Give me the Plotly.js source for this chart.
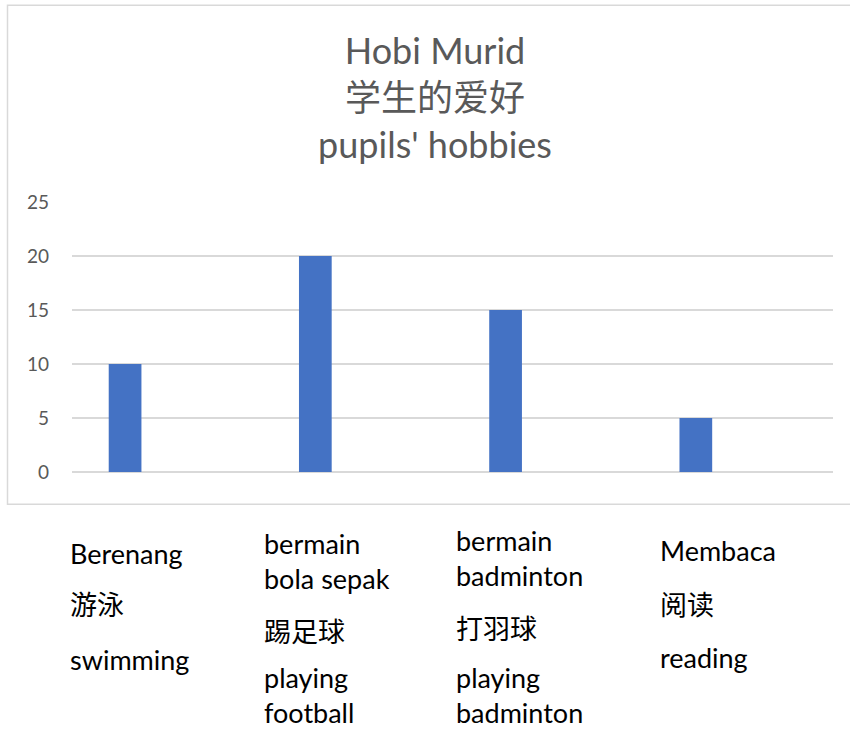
<!DOCTYPE html>
<html>
<head>
<meta charset="utf-8">
<script src="https://cdn.plot.ly/plotly-3.0.1.min.js"></script>
<style>html,body{margin:0;padding:0;background:#fff;}#chart{width:850px;height:731px;}</style>
</head>
<body>
<div id="chart"></div>
<script>
// ---- data ----
const categories = ['Berenang', 'bermain bola sepak', 'bermain badminton', 'Membaca'];
const values = [10, 20, 15, 5];
const labelMs = ['Berenang', 'bermain<br>bola sepak', 'bermain<br>badminton', 'Membaca'];
const labelZh = ['游泳', '踢足球', '打羽球', '阅读'];
const labelEn = ['swimming', 'playing<br>football', 'playing<br>badminton', 'reading'];
const yTicks = [0, 5, 10, 15, 20, 25];
const titleLines = ['Hobi Murid', '学生的爱好', "pupils' hobbies"];

// ---- layout geometry (pixels) ----
const W = 850, H = 731;
const L = 72, R = 833, T = 201.7, B = 471.7;
const px = x => (x - L) / (R - L);
const py = y => (B - y) / (B - T);
const colX = [69, 263, 455, 659];
// vertical centre of each label block, per column
const rowMs = [553, 561, 558, 550];
const rowZh = [604, 631, 628, 604];
const rowEn = [659, 701, 699, 657];

const FONT = 'Lato, "Noto Sans CJK SC", sans-serif';
const FS = 27;
const annotations = [];
[labelMs, labelZh, labelEn].forEach((arr, r) => {
  const rows = [rowMs, rowZh, rowEn][r];
  arr.forEach((t, i) => {
    const nLines = t.split('<br>').length;
    const half = nLines * FS * 1.3 / 2;
    const nearBottom = rows[i] + half > H - 1;
    annotations.push({
      text: t, xref: 'paper', yref: 'paper', x: px(colX[i]),
      y: nearBottom ? py(H - 1) : py(rows[i]),
      xanchor: 'left', yanchor: nearBottom ? 'bottom' : 'middle',
      align: 'left', showarrow: false, borderpad: 0,
      font: {family: FONT, size: FS, color: '#000000'}
    });
  });
});

const trace = {
  type: 'bar', x: categories, y: values,
  marker: {color: '#4472C4'},
  width: 0.172, offset: -0.307,
  hoverinfo: 'x+y'
};

const layout = {
  width: W, height: H,
  margin: {l: L, r: W - R, t: T, b: H - B, pad: 0},
  paper_bgcolor: '#ffffff', plot_bgcolor: '#ffffff',
  showlegend: false,
  font: {family: FONT, color: '#595959'},
  title: {
    text: titleLines.join('<br>'),
    font: {family: FONT, size: 36, color: '#595959'},
    xref: 'container', yref: 'container', x: 435 / W, y: 1 - 64 / H,
    xanchor: 'center', yanchor: 'middle'
  },
  xaxis: {
    type: 'category', showticklabels: false, showgrid: false, zeroline: false,
    showline: false, ticks: '', range: [-0.5, 3.5], fixedrange: true
  },
  yaxis: {
    range: [0, 25], tickvals: yTicks, ticktext: yTicks.map(String),
    showgrid: true, gridcolor: '#d9d9d9', gridwidth: 1.3,
    zeroline: true, zerolinecolor: '#d9d9d9', zerolinewidth: 1.3,
    showline: false, ticks: '', ticklabelstandoff: 22,
    tickfont: {family: FONT, size: 19, color: '#595959'}, fixedrange: true
  },
  shapes: [{
    type: 'rect', xref: 'paper', yref: 'paper',
    x0: px(7.5), x1: px(870), y0: py(504), y1: py(5),
    line: {color: '#d9d9d9', width: 1.5}, fillcolor: 'rgba(0,0,0,0)', layer: 'below'
  }],
  annotations: annotations
};

Plotly.newPlot('chart', [trace], layout, {displayModeBar: false, staticPlot: true});
</script>
</body>
</html>
